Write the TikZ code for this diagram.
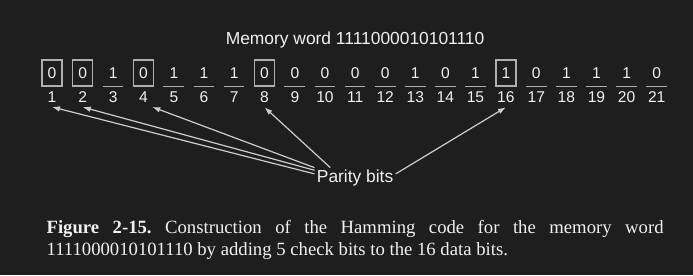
\documentclass[tikz,border=0pt]{standalone}
\usepackage{fontspec}
\setmainfont{Liberation Serif}
\setsansfont{Liberation Sans}
\usetikzlibrary{positioning,arrows.meta}

\definecolor{bgdark}{RGB}{30,30,30}
\definecolor{inkwhite}{RGB}{240,240,240}
\definecolor{rulegray}{RGB}{175,175,175}
\definecolor{arrowgray}{RGB}{205,205,205}

\frenchspacing

\begin{document}
\begin{tikzpicture}[
node distance=4.65pt,
every node/.style={
text=inkwhite,
inner sep=0pt
},
every label/.style={
inner sep=2pt,
font=\sffamily\fontsize{7.8}{9}\selectfont
},
label distance=0.35pt,
arrow/.style={-{Latex[length=4pt,width=2.8pt]}, draw=arrowgray, line width=0.6pt}
]

% =====================================================
% Styles
% =====================================================

\tikzstyle{bit} =
[rectangle,
minimum width=10pt,
minimum height=13pt,
font=\sffamily\fontsize{7.8}{9}\selectfont]

\tikzstyle{paritybit} =
[bit,
draw=rulegray,
line width=0.7pt]

\tikzstyle{databit} =
[bit,
append after command={
(\tikzlastnode.south west) edge[draw=rulegray, line width=0.7pt]
(\tikzlastnode.south east)}]

\tikzstyle{heading} =
[font=\sffamily\fontsize{8.7}{10}\selectfont]

\tikzstyle{note} =
[inner sep=1pt,
font=\sffamily\fontsize{8.7}{10}\selectfont]

\tikzstyle{caption} =
[text width=308.5pt,
align=justify,
font=\rmfamily\fontsize{9.35}{10.85}\selectfont]

\useasboundingbox[fill=bgdark] (0,0) rectangle (346.5pt,-137.5pt);

% =====================================================
% Nodes
% =====================================================

\node (b1) [paritybit, label={[name=n1]below:1}] at (26pt,-36.5pt) {0};
\node (b2) [paritybit, right=of b1, label={[name=n2]below:2}] {0};
\node (b3) [databit, right=of b2, label={[name=n3]below:3}] {1};
\node (b4) [paritybit, right=of b3, label={[name=n4]below:4}] {0};
\node (b5) [databit, right=of b4, label={[name=n5]below:5}] {1};
\node (b6) [databit, right=of b5, label={[name=n6]below:6}] {1};
\node (b7) [databit, right=of b6, label={[name=n7]below:7}] {1};
\node (b8) [paritybit, right=of b7, label={[name=n8]below:8}] {0};
\node (b9) [databit, right=of b8, label={[name=n9]below:9}] {0};
\node (b10) [databit, right=of b9, label={[name=n10]below:10}] {0};
\node (b11) [databit, right=of b10, label={[name=n11]below:11}] {0};
\node (b12) [databit, right=of b11, label={[name=n12]below:12}] {0};
\node (b13) [databit, right=of b12, label={[name=n13]below:13}] {1};
\node (b14) [databit, right=of b13, label={[name=n14]below:14}] {0};
\node (b15) [databit, right=of b14, label={[name=n15]below:15}] {1};
\node (b16) [paritybit, right=of b15, label={[name=n16]below:16}] {1};
\node (b17) [databit, right=of b16, label={[name=n17]below:17}] {0};
\node (b18) [databit, right=of b17, label={[name=n18]below:18}] {1};
\node (b19) [databit, right=of b18, label={[name=n19]below:19}] {1};
\node (b20) [databit, right=of b19, label={[name=n20]below:20}] {1};
\node (b21) [databit, right=of b20, label={[name=n21]below:21}] {0};

\node (word) [heading, above=5.3pt of b11]
{Memory word 1111000010101110};

\node (parity) [note, below=30.5pt of n11]
{Parity bits};

\node (caption) [caption, below=15.75pt of parity]
{\textbf{Figure 2-15.} Construction of the Hamming code for the memory word
1111000010101110 by adding 5 check bits to the 16 data bits.};

% =====================================================
% Arrows
% =====================================================

\draw [arrow] (parity.174) -- (n1.south);

\draw [arrow] (parity.169) -- (n2.south);

\draw [arrow] (parity.north west) -- (n4.south east);

\draw [arrow] (parity.157) -- (n8.south);

\draw [arrow] (parity.6) -- (n16.south);

\end{tikzpicture}
\end{document}
